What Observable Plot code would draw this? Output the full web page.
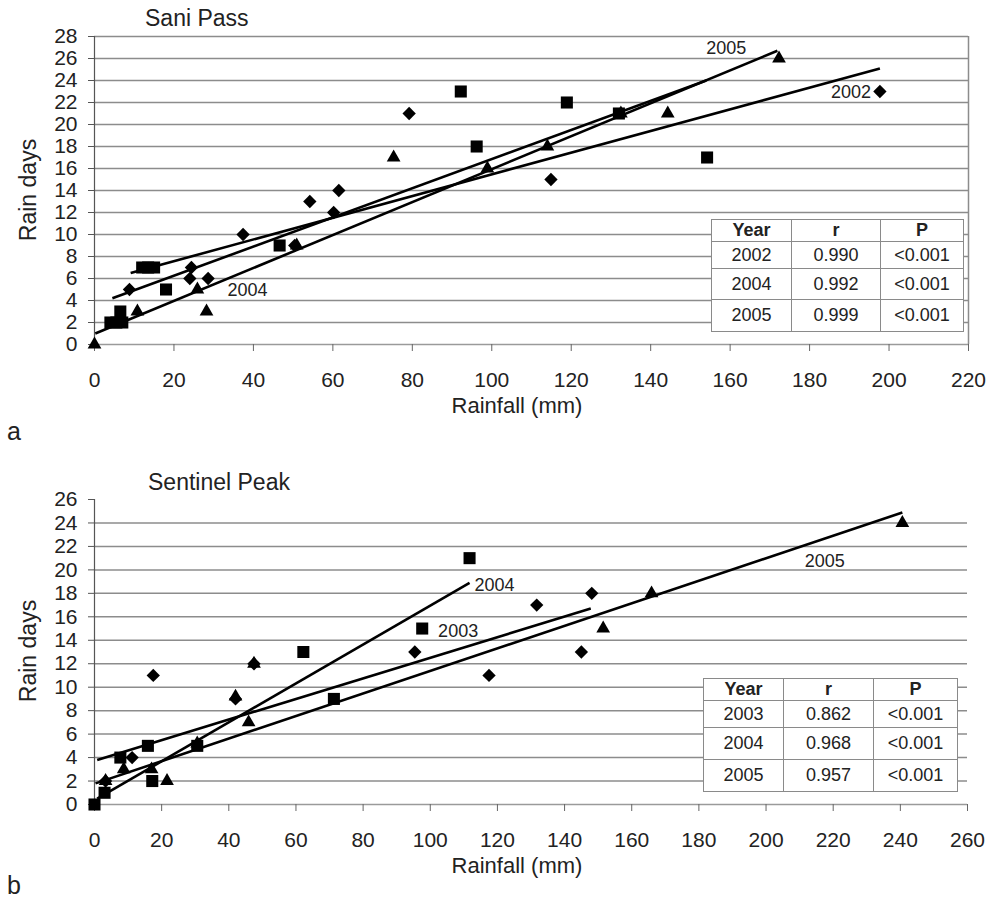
<!DOCTYPE html>
<html><head><meta charset="utf-8">
<script src="https://cdn.jsdelivr.net/npm/d3@7"></script>
<script src="https://cdn.jsdelivr.net/npm/@observablehq/plot@0.6"></script>
<style>
html,body{margin:0;padding:0;background:#fff;}
#root{position:relative;width:989px;height:900px;overflow:hidden;background:#fff;font-family:'Liberation Sans',Arial,Helvetica,sans-serif;color:#222;}
.abs{position:absolute;white-space:nowrap;line-height:1;}
.panel{position:absolute;left:0;}
table.stats{position:absolute;border-collapse:collapse;background:#fff;font-size:18px;table-layout:fixed;color:#222;}
table.stats td, table.stats th{border:1px solid #8a8a8a;text-align:center;padding:0;}
table.stats th{font-weight:bold;}
</style></head><body><div id="root"></div>
<script>
// ---------- Panel a: Sani Pass ----------
const saniXTicks = [0, 20, 40, 60, 80, 100, 120, 140, 160, 180, 200, 220];
const saniYTicks = [0, 2, 4, 6, 8, 10, 12, 14, 16, 18, 20, 22, 24, 26, 28];
const saniGrid = [2, 4, 6, 8, 10, 12, 14, 16, 18, 20, 22, 24, 26, 28];
// [rainfall mm, rain days]
const sani2002 = [[8.8,5],[24.4,7],[24,6],[28.6,6],[37.4,10],[50.4,9],[54.2,13],[60.2,12],[61.5,14],[79.2,21],[114.9,15],[197.7,23]];
const sani2004 = [[4,2],[5.5,2],[7,2],[6.5,3],[12,7],[13.5,7],[15,7],[18,5],[46.6,9],[92.2,23],[96.2,18],[118.9,22],[132,21],[154.2,17]];
const sani2005 = [[0,0],[10.8,3],[25.9,5],[28.2,3],[50.9,9],[75.3,17],[98.9,16],[114,18],[132.5,21],[144.3,21],[172.3,26]];
// fitted lines [x1, y1, x2, y2]
const saniFit2002 = [9.1, 6.5, 197.7, 25.1];
const saniFit2004 = [4.5, 4.2, 154, 24.0];
const saniFit2005 = [0.2, 1.0, 171.9, 26.7];
const saniLabelText = ["2005", "2002", "2004"];
const saniLabelX = [159, 190.4, 38.5];
const saniLabelY = [26.9, 22.9, 4.9];
const saniTableYears = ["2002", "2004", "2005"];
const saniTableR = ["0.990", "0.992", "0.999"];
const saniTableP = ["<0.001", "<0.001", "<0.001"];

// ---------- Panel b: Sentinel Peak ----------
const sentXTicks = [0, 20, 40, 60, 80, 100, 120, 140, 160, 180, 200, 220, 240, 260];
const sentYTicks = [0, 2, 4, 6, 8, 10, 12, 14, 16, 18, 20, 22, 24, 26];
const sentGrid = [2, 4, 6, 8, 10, 12, 14, 16, 18, 20, 22, 24];
const sent2003 = [[3.3,2],[11.2,4],[17.5,11],[42,9],[47.5,12],[95.4,13],[117.5,11],[131.7,17],[145,13],[148.1,18]];
const sent2004 = [[0,0],[3,1],[7.7,4],[15.9,5],[17.2,2],[30.6,5],[62.2,13],[71.3,9],[97.6,15],[111.7,21]];
const sent2005 = [[3.3,2],[8.7,3],[17,3],[21.6,2],[30.6,5.2],[42,9.2],[45.9,7],[47.5,12],[151.5,15],[165.9,18],[240.6,24]];
const sentFit2003 = [0.8, 3.8, 147.8, 16.7];
const sentFit2004 = [0.8, 0.5, 111.7, 18.9];
const sentFit2005 = [0.3, 1.8, 240.6, 24.9];
const sentLabelText = ["2004", "2003", "2005"];
const sentLabelX = [119.1, 108.3, 217.5];
const sentLabelY = [18.7, 14.8, 20.7];
const sentTableYears = ["2003", "2004", "2005"];
const sentTableR = ["0.862", "0.968", "0.957"];
const sentTableP = ["<0.001", "<0.001", "<0.001"];

const FONT = "'Liberation Sans', Arial, Helvetica, sans-serif";
const root = document.getElementById("root");

function toPts(arr) { return arr.map(([x, y]) => ({x, y})); }
function toFit(f) { return {x1: f[0], y1: f[1], x2: f[2], y2: f[3]}; }

function panel(cfg) {
  const marks = [
    Plot.gridY(cfg.grid, {stroke: "#8c8c8c", strokeOpacity: 1, strokeWidth: 1.5}),
  ];
  if (cfg.border) marks.push(Plot.ruleX([cfg.xDomain[1]], {y1: cfg.yDomain[0], y2: cfg.yDomain[1], stroke: "#8c8c8c", strokeWidth: 1.5}));
  marks.push(Plot.ruleY([0], {stroke: "#9a9a9a", strokeWidth: 1.5}));
  marks.push(Plot.ruleX([0], {y1: cfg.yDomain[0], y2: cfg.yDomain[1], stroke: "#555", strokeWidth: 1.2}));
  marks.push(Plot.axisX(cfg.xTicks, {tickSize: 7, tickPadding: 21, fontSize: 21, stroke: "#666", fill: "#222", label: null}));
  marks.push(Plot.axisY(cfg.yTicks, {tickSize: 6, tickPadding: 11, fontSize: 21, stroke: "#555", fill: "#222", label: null}));
  marks.push(Plot.link(cfg.fits.map(toFit), {x1: "x1", y1: "y1", x2: "x2", y2: "y2", stroke: "black", strokeWidth: 2.6}));
  marks.push(Plot.dot(toPts(cfg.diamonds), {x: "x", y: "y", symbol: "diamond2", r: 6, fill: "black", stroke: "none"}));
  marks.push(Plot.dot(toPts(cfg.squares), {x: "x", y: "y", symbol: "square", r: 6.8, fill: "black", stroke: "none"}));
  marks.push(Plot.dot(toPts(cfg.triangles), {x: "x", y: "y", symbol: "triangle", r: 5.1, fill: "black", stroke: "none"}));
  const labels = cfg.labelText.map((t, i) => ({text: t, x: cfg.labelX[i], y: cfg.labelY[i]}));
  marks.push(Plot.text(labels, {x: "x", y: "y", text: "text", fontSize: 18, fill: "#222"}));
  const svg = Plot.plot({
    width: 989, height: cfg.height,
    marginLeft: 94, marginRight: cfg.mr, marginTop: cfg.mt, marginBottom: cfg.mb,
    x: {domain: cfg.xDomain},
    y: {domain: cfg.yDomain},
    style: {fontFamily: FONT, background: "transparent", overflow: "visible", color: "#222"},
    marks
  });
  const div = document.createElement("div");
  div.className = "panel";
  div.style.top = cfg.top + "px";
  div.appendChild(svg);
  root.appendChild(div);
}

function text(str, opts) {
  const d = document.createElement("div");
  d.className = "abs";
  d.textContent = str;
  const fs = opts.fs;
  d.style.fontSize = fs + "px";
  if (opts.rotate) {
    d.style.left = opts.x + "px";
    d.style.top = opts.y + "px";
    d.style.transform = "translate(-50%,-50%) rotate(-90deg)";
  } else {
    d.style.top = (opts.baseline - 0.8465 * fs) + "px";
    d.style.left = opts.x + "px";
    if (opts.center) d.style.transform = "translateX(-50%)";
  }
  root.appendChild(d);
}

function table(years, rs, ps, pos) {
  const t = document.createElement("table");
  t.className = "stats";
  t.style.left = pos.left + "px";
  t.style.top = pos.top + "px";
  t.style.width = pos.cols.reduce((a, b) => a + b, 0) + "px";
  const cg = document.createElement("colgroup");
  pos.cols.forEach(w => { const c = document.createElement("col"); c.style.width = w + "px"; cg.appendChild(c); });
  t.appendChild(cg);
  const rows = [["Year", "r", "P"]].concat(years.map((y, i) => [y, rs[i], ps[i]]));
  rows.forEach((r, i) => {
    const tr = document.createElement("tr");
    tr.style.height = pos.rows[i] + "px";
    r.forEach(v => { const c = document.createElement(i === 0 ? "th" : "td"); c.textContent = v; tr.appendChild(c); });
    t.appendChild(tr);
  });
  root.appendChild(t);
}

panel({top: 0, height: 400, mt: 36, mb: 56, mr: 21, xDomain: [0, 220], yDomain: [0, 28],
  xTicks: saniXTicks, yTicks: saniYTicks, grid: saniGrid, border: true,
  fits: [saniFit2002, saniFit2004, saniFit2005],
  diamonds: sani2002, squares: sani2004, triangles: sani2005,
  labelText: saniLabelText, labelX: saniLabelX, labelY: saniLabelY});

panel({top: 460, height: 400, mt: 39, mb: 56, mr: 22, xDomain: [0, 260], yDomain: [0, 26],
  xTicks: sentXTicks, yTicks: sentYTicks, grid: sentGrid, border: false,
  fits: [sentFit2003, sentFit2004, sentFit2005],
  diamonds: sent2003, squares: sent2004, triangles: sent2005,
  labelText: sentLabelText, labelX: sentLabelX, labelY: sentLabelY});

table(saniTableYears, saniTableR, saniTableP, {left: 711, top: 219, cols: [80, 89, 83], rows: [22, 27, 31, 32]});
table(sentTableYears, sentTableR, sentTableP, {left: 703, top: 678, cols: [80, 90, 84], rows: [21, 27, 32, 32]});

text("Sani Pass", {x: 145, baseline: 26, fs: 23});
text("Sentinel Peak", {x: 148, baseline: 490, fs: 23});
text("Rainfall (mm)", {x: 517, baseline: 414, fs: 22, center: true});
text("Rainfall (mm)", {x: 517, baseline: 874, fs: 22, center: true});
text("Rain days", {x: 28, y: 190, fs: 23, rotate: true});
text("Rain days", {x: 28, y: 651, fs: 23, rotate: true});
text("a", {x: 7, baseline: 440, fs: 25});
text("b", {x: 7, baseline: 894, fs: 25});
</script></body></html>
